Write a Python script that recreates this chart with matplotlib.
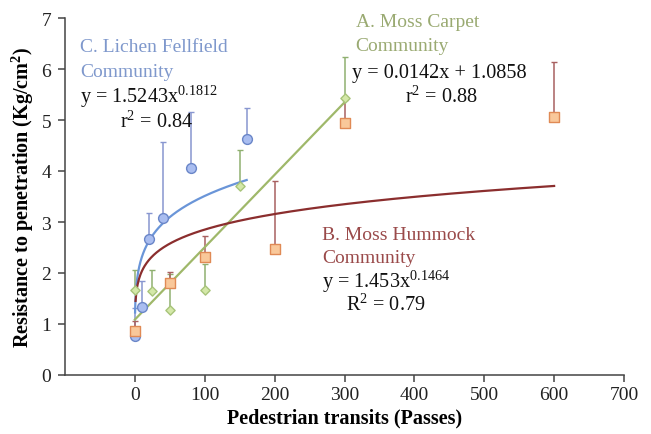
import matplotlib
matplotlib.use("Agg")
import matplotlib.pyplot as plt
import numpy as np

plt.rcParams['font.family'] = ['Liberation Serif', 'DejaVu Serif']
plt.rcParams['mathtext.fontset'] = 'custom'
plt.rcParams['mathtext.rm'] = 'Liberation Serif'
plt.rcParams['mathtext.bf'] = 'Liberation Serif:bold'

# C. Lichen Fellfield (blue circles)
lichen_x = [0, 10, 20, 40, 80, 160]
lichen_y = [0.76, 1.33, 2.67, 3.07, 4.06, 4.63]
lichen_err = [0.55, 0.51, 0.50, 1.50, 1.10, 0.60]

# A. Moss Carpet (green diamonds)
carpet_x = [0, 25, 50, 100, 150, 300]
carpet_y = [1.66, 1.65, 1.27, 1.67, 3.71, 5.44]
carpet_err = [0.40, 0.40, 0.72, 0.51, 0.71, 0.79]

# B. Moss Hummock (orange squares)
hummock_x = [0, 50, 100, 200, 300, 600]
hummock_y = [0.86, 1.80, 2.32, 2.48, 4.94, 5.05]
hummock_err = [0.20, 0.21, 0.41, 1.32, 0.45, 1.09]

# fits
lichen_a, lichen_b = 1.5243, 0.1812
carpet_m, carpet_c = 0.0142, 1.0858
hummock_a, hummock_b = 1.453, 0.1464

blue_edge = '#6a86c8'
green = '#a8c47a'
green_line = '#9fb86a'
orange_fill = '#f9c89a'
orange_edge = '#e08a55'
red = '#8b2e2e'
red_text = '#9a4a4a'
green_text = '#9aaa72'
blue_text = '#7f98cc'

fig = plt.figure(figsize=(6.51, 4.35), dpi=100)
ax = fig.add_axes([65/651, 1-376/435, (624-65)/651, (376-19)/435])

# error bars (upper only)
ax.errorbar(lichen_x, lichen_y, yerr=[np.zeros(len(lichen_err)), lichen_err],
            fmt='none', ecolor='#8896d0', elinewidth=1.1, capsize=2, capthick=1, zorder=2)
ax.errorbar(carpet_x, carpet_y, yerr=[np.zeros(len(carpet_err)), carpet_err],
            fmt='none', ecolor='#8fb070', elinewidth=1.1, capsize=2, capthick=1, zorder=2)
ax.errorbar(hummock_x, hummock_y, yerr=[np.zeros(len(hummock_err)), hummock_err],
            fmt='none', ecolor='#a86060', elinewidth=1.1, capsize=2, capthick=1, zorder=2)

# fit curves
xl = np.linspace(0.3, 160, 400)
ax.plot(xl, lichen_a * xl ** lichen_b, color='#6a95d8', lw=1.6, zorder=3)
xc = np.linspace(0, 300, 50)
ax.plot(xc, carpet_m * xc + carpet_c, color=green_line, lw=1.6, zorder=3)
xh = np.linspace(1.0, 600, 600)
ax.plot(xh, hummock_a * xh ** hummock_b, color=red, lw=1.6, zorder=3)

# markers
ax.scatter(lichen_x, lichen_y, marker='o', s=50, facecolor='#a9bdf0', edgecolor=blue_edge, lw=1, zorder=4)
ax.scatter(carpet_x, carpet_y, marker='D', s=22, facecolor='#d4e8a8', edgecolor=green, lw=1, zorder=4)
ax.scatter(hummock_x, hummock_y, marker='s', s=50, facecolor=orange_fill, edgecolor=orange_edge, lw=1, zorder=4)

ax.set_xlim(-100, 700)
ax.set_ylim(0, 7)
ax.set_xticks(range(0, 701, 100))
ax.set_yticks(range(0, 8))
for s in ['top', 'right']:
    ax.spines[s].set_visible(False)
for s in ['left', 'bottom']:
    ax.spines[s].set_linewidth(1.1)
    ax.spines[s].set_color('#444444')
ax.tick_params(axis='both', direction='out', length=5, width=1.1, labelsize=14,
               colors='#444444', labelcolor='#222222')
ax.tick_params(axis='x', pad=3)
ax.tick_params(axis='y', pad=5)

ax.set_xlabel('Pedestrian transits (Passes)', fontsize=14.5, fontweight='bold', labelpad=3)
ax.set_ylabel('Resistance to penetration (Kg/cm$^\\mathbf{2}$)', fontsize=14.5, fontweight='bold', labelpad=4)

fs = 14
fe = 14.6
# annotations
ax.text(-78, 6.45, 'C. Lichen Fellfield', color=blue_text, fontsize=fs, va='center', ha='left')
ax.text(-78, 5.96, 'Community', color=blue_text, fontsize=fs, va='center', ha='left')
ax.text(-79, 5.47, 'y = 1.5243x$^{0.1812}$', color='#111111', fontsize=fe, va='center', ha='left')
ax.text(-21, 4.98, 'r$^2$ = 0.84', color='#111111', fontsize=fe, va='center', ha='left')

ax.text(316, 6.94, 'A. Moss Carpet', color=green_text, fontsize=fs, va='center', ha='left')
ax.text(316, 6.47, 'Community', color=green_text, fontsize=fs, va='center', ha='left')
ax.text(311, 5.94, 'y = 0.0142x + 1.0858', color='#111111', fontsize=fe, va='center', ha='left')
ax.text(386, 5.47, 'r$^2$ = 0.88', color='#111111', fontsize=fe, va='center', ha='left')

ax.text(268, 2.76, 'B. Moss Hummock', color=red_text, fontsize=fs, va='center', ha='left')
ax.text(268, 2.31, 'Community', color=red_text, fontsize=fs, va='center', ha='left')
ax.text(268, 1.86, 'y = 1.453x$^{0.1464}$', color='#111111', fontsize=fe, va='center', ha='left')
ax.text(302, 1.39, 'R$^2$ = 0.79', color='#111111', fontsize=fe, va='center', ha='left')

fig.savefig('out.png', dpi=100)
